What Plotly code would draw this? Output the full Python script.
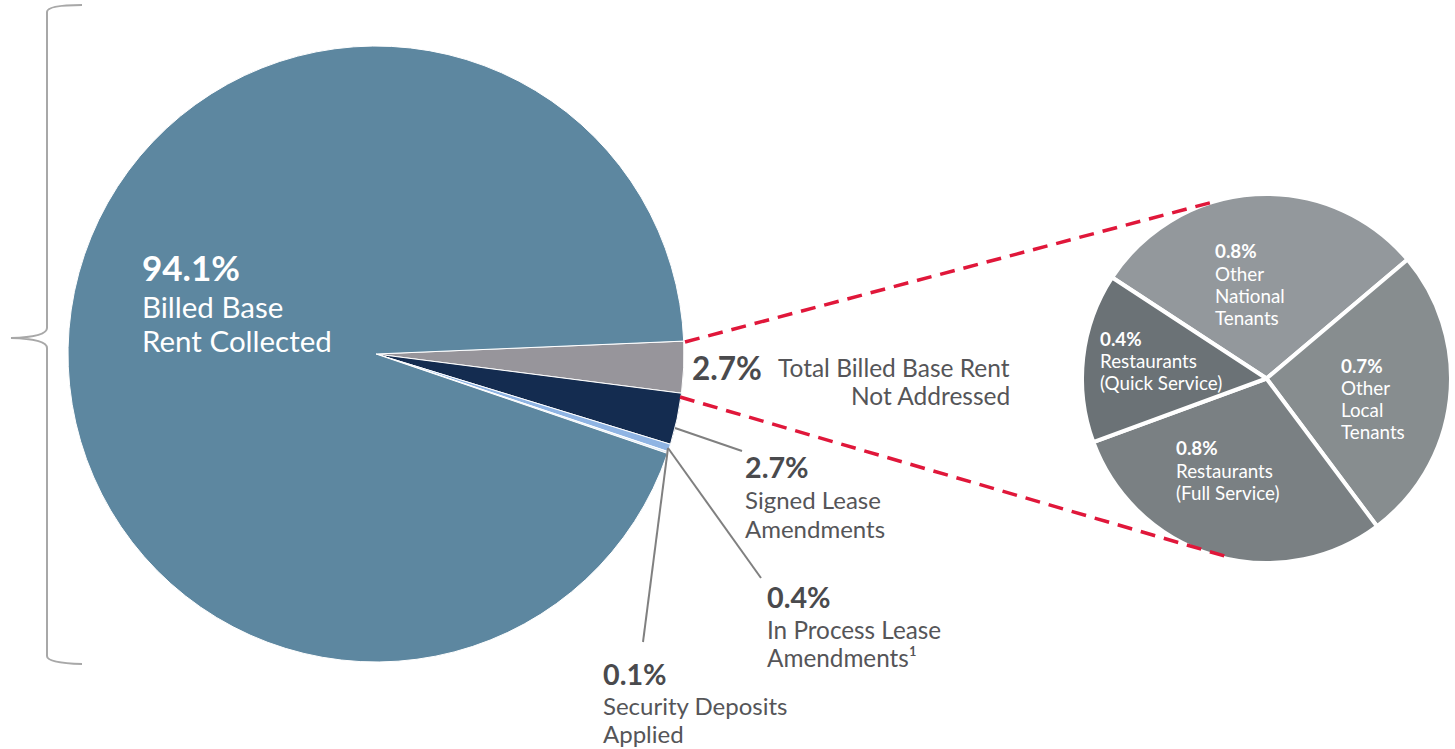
import plotly.graph_objects as go

# ---- data ----
main_labels = ["Total Billed Base Rent Not Addressed", "Signed Lease Amendments",
               "In Process Lease Amendments", "Security Deposits Applied",
               "Billed Base Rent Collected"]
main_values = [2.7, 2.7, 0.4, 0.1, 94.1]
main_colors = ["#97959b", "#142c50", "#8fb4e3", "#dbe8f6", "#5d87a0"]

sub_labels = ["Other National Tenants", "Other Local Tenants",
              "Restaurants (Full Service)", "Restaurants (Quick Service)"]
sub_values = [0.8, 0.7, 0.8, 0.4]
sub_colors = ["#93989c", "#878d8f", "#7a8083", "#6b7276"]

W, H = 1455, 749
FONT = "Lato, 'Open Sans', sans-serif"
DARK = "#4a4a4d"
TXT = "#555558"

fig = go.Figure()

def dom(cx, cy, r):
    return dict(x=[(cx - r) / W, (cx + r) / W], y=[1 - (cy + r) / H, 1 - (cy - r) / H])

fig.add_trace(go.Pie(values=main_values, labels=main_labels, sort=False,
                     direction="clockwise", rotation=87.6,
                     marker=dict(colors=main_colors, line=dict(color="white", width=1)),
                     textinfo="none", hoverinfo="label+value", showlegend=False,
                     domain=dom(376, 354, 308)))
fig.add_trace(go.Pie(values=sub_values, labels=sub_labels, sort=False,
                     direction="clockwise", rotation=303.2,
                     marker=dict(colors=sub_colors, line=dict(color="white", width=4)),
                     textinfo="none", hoverinfo="label+value", showlegend=False,
                     domain=dom(1266.5, 378.5, 184.5)))

ann = []
def t(x, y, text, size, color, bold=False, xanchor="left"):
    ann.append(dict(x=x, y=y, xref="x", yref="y", text=f"<b>{text}</b>" if bold else text,
                    showarrow=False, xanchor=xanchor, yanchor="middle",
                    font=dict(family=FONT, size=size, color=color)))

# main pie labels
t(140, 267, f"{main_values[4]}%", 35, "white", True)
t(140, 306, "Billed Base", 29.5, "white")
t(140, 340, "Rent Collected", 29.5, "white")

t(690, 368, f"{main_values[0]}%", 31.5, DARK, True)
t(1012, 367, "Total Billed Base Rent", 24.5, TXT, xanchor="right")
t(1012, 395, "Not Addressed", 24.5, TXT, xanchor="right")

t(743, 467, f"{main_values[1]}%", 28.7, DARK, True)
t(743, 499, "Signed Lease", 24, TXT)
t(743, 528, "Amendments", 24, TXT)

t(765, 597, f"{main_values[2]}%", 28.7, DARK, True)
t(765, 629, "In Process Lease", 24.3, TXT)
t(765, 657, "Amendments\u00b9", 24.3, TXT)

t(601, 674, f"{main_values[3]}%", 28.7, DARK, True)
t(601, 705, "Security Deposits", 24, TXT)
t(601, 733, "Applied", 24, TXT)

# sub pie labels
SW = "white"
FS = 18.8
t(1213, 250, f"{sub_values[0]}%", FS, SW, True)
for i, s in enumerate(["Other", "National", "Tenants"]):
    t(1213, 273 + 22 * i, s, FS, SW)
t(1339, 365, f"{sub_values[1]}%", FS, SW, True)
for i, s in enumerate(["Other", "Local", "Tenants"]):
    t(1339, 387 + 22 * i, s, FS, SW)
t(1174, 447, f"{sub_values[2]}%", FS, SW, True)
for i, s in enumerate(["Restaurants", "(Full Service)"]):
    t(1174, 470 + 22 * i, s, FS, SW)
t(1098, 338, f"{sub_values[3]}%", FS, SW, True)
for i, s in enumerate(["Restaurants", "(Quick Service)"]):
    t(1098, 360 + 22 * i, s, FS, SW)

shapes = [
    # leader lines
    dict(type="line", x0=675, y0=428, x1=742, y1=451, line=dict(color="#808080", width=2)),
    dict(type="line", x0=668, y0=448, x1=761, y1=578, line=dict(color="#808080", width=2)),
    dict(type="line", x0=668, y0=448, x1=643, y1=642, line=dict(color="#808080", width=2)),
    # red dashed connectors
    dict(type="line", x0=685, y0=342, x1=1213, y1=202,
         line=dict(color="#e0173a", width=3.5, dash="15px,9px")),
    dict(type="line", x0=680, y0=397, x1=1228, y1=557,
         line=dict(color="#e0173a", width=3.5, dash="15px,9px")),
    # brace
    dict(type="path", xref="x", yref="y",
         path="M 82 5 Q 47 5 47 12 L 47 328 Q 47 337 11 338 Q 47 339 47 348 L 47 656 Q 47 663 82 664",
         line=dict(color="#a8a8a8", width=2)),
]

fig.update_layout(
    width=W, height=H, margin=dict(l=0, r=0, t=0, b=0),
    paper_bgcolor="white", plot_bgcolor="rgba(0,0,0,0)",
    xaxis=dict(range=[0, W], visible=False, fixedrange=True),
    yaxis=dict(range=[H, 0], visible=False, fixedrange=True),
    annotations=ann, shapes=shapes,
)
fig.write_html("out.html")
